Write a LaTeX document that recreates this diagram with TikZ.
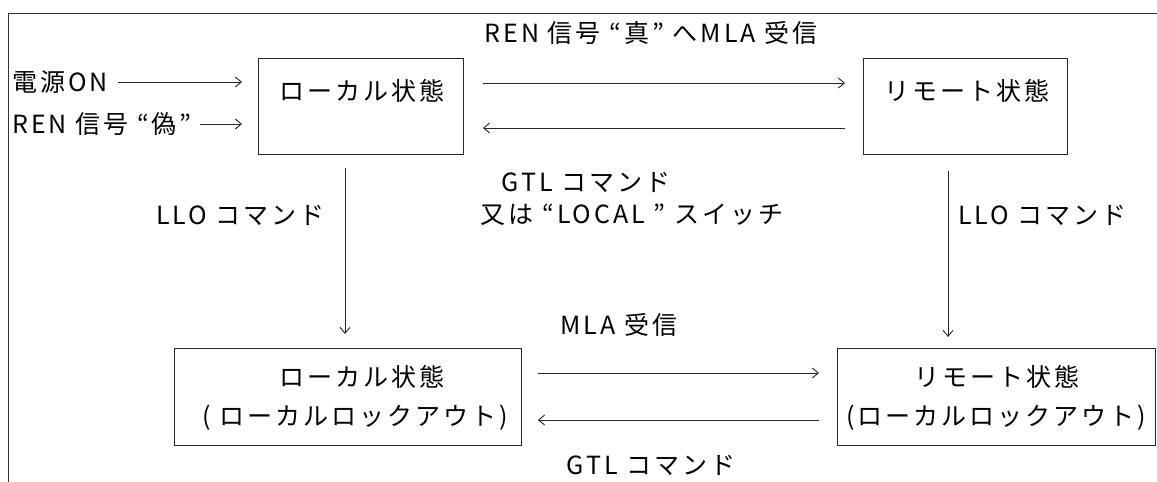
\documentclass[tikz,border=0pt]{standalone}
\usepackage{fontspec}
\setmainfont[LetterSpace=12]{Noto Sans CJK JP}
\usetikzlibrary{arrows.meta}
\begin{document}
\begin{tikzpicture}[x=1pt,y=-1pt,
  font=\fontsize{25}{29}\selectfont,
  frameline/.style={draw=black!80,line width=0.9pt},
  box/.style={draw=black!85,line width=0.9pt,inner sep=0pt,anchor=north west},
  lbl/.style={inner sep=0pt},
  arr/.style={draw=black!85,line width=0.9pt,-{Straight Barb[length=6pt,width=10pt]}}]
\useasboundingbox (0,0) rectangle (1157,482);
\draw[frameline] (8,482) -- (8,13) -- (1157,13);
% boxes
\node[box,minimum width=205pt,minimum height=96pt] (b1) at (258,58) {};
\node[box,minimum width=204pt,minimum height=96pt] (b2) at (863,58) {};
\node[box,minimum width=347pt,minimum height=97pt] (b3) at (174,348) {};
\node[box,minimum width=318pt,minimum height=97pt] (b4) at (837,348) {};
% box texts
\node[lbl] (t1) at (362,91) {ローカル状態};
\node[lbl] (t2) at (967,91) {リモート状態};
\node[lbl] (t3a) at (362,377) {ローカル状態};
\node[lbl] (t3b) at (355,418) {( ローカルロックアウト)};
\node[lbl] (t4a) at (997,377) {リモート状態};
\node[lbl] (t4b) at (996,418) {(ローカルロックアウト)};
% inputs
\node[lbl,anchor=west] (pwr) at (12,82) {電源ON};
\node[lbl,anchor=west] (renf) at (12,124) {REN 信号 “偽”};
\draw[arr,shorten <=10pt,shorten >=16pt] (pwr.east) -- (pwr.east -| b1.west);
\draw[arr,shorten <=8pt,shorten >=16pt] (renf.east) -- (renf.east -| b1.west);
% transitions
\draw[arr,shorten <=19pt,shorten >=18pt] (b1.east |- 0,83) -- (b2.west |- 0,83);
\draw[arr,shorten <=18pt,shorten >=19pt] (b2.west |- 0,128) -- (b1.east |- 0,128);
\draw[arr,shorten <=13pt,shorten >=14pt] (b1.south -| 345,0) -- (b3.north -| 345,0);
\draw[arr,shorten <=16pt,shorten >=11pt] (b2.south -| 948,0) -- (b4.north -| 948,0);
\draw[arr,shorten <=16pt,shorten >=18pt] (b3.east |- 0,373) -- (b4.west |- 0,373);
\draw[arr,shorten <=18pt,shorten >=16pt] (b4.west |- 0,420) -- (b3.east |- 0,420);
% labels
\node[lbl] (l1) at (651,33) {REN 信号 “真” へMLA 受信};
\node[lbl] (l2) at (586,182) {GTL コマンド};
\node[lbl] (l3) at (632,215) {又は “LOCAL ” スイッチ};
\node[lbl,anchor=east] (l4) at (325,215) {LLO コマンド};
\node[lbl,anchor=west] (l5) at (958,215) {LLO コマンド};
\node[lbl] (l6) at (619,325) {MLA 受信};
\node[lbl] (l7) at (651,465) {GTL コマンド};
\end{tikzpicture}
\end{document}
